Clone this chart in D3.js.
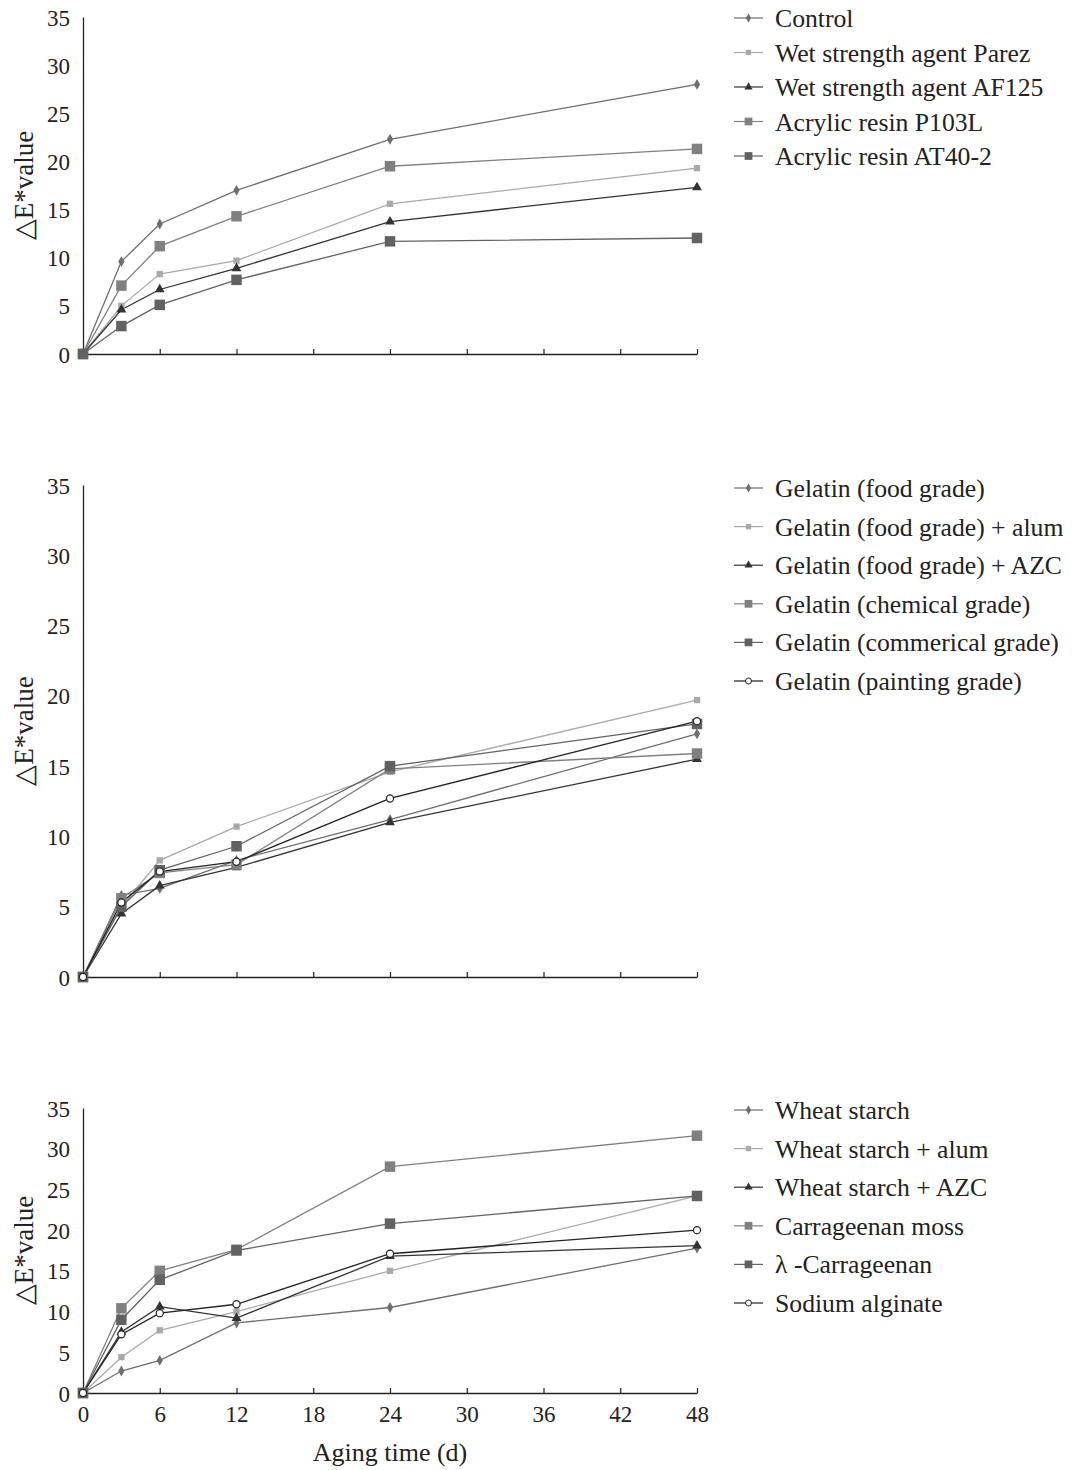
<!DOCTYPE html>
<html>
<head>
<meta charset="utf-8">
<script src="https://cdn.jsdelivr.net/npm/d3@7"></script>
<style>
html,body{margin:0;padding:0;background:#fff;}
svg text{font-family:"Liberation Serif","Times New Roman",serif;fill:#222;}
</style>
</head>
<body>
<svg id="chart" width="1078" height="1470"></svg>
<script>
const days = [0, 3, 6, 12, 24, 48];
const xTicks = [0, 6, 12, 18, 24, 30, 36, 42, 48];
const yTicks = [0, 5, 10, 15, 20, 25, 30, 35];
const yLabel = "\u25B3E*value";
const xLabel = "Aging time (d)";

// Panel 1
const names1 = ["Control", "Wet strength agent Parez", "Wet strength agent AF125", "Acrylic resin P103L", "Acrylic resin AT40-2"];
const control = [0, 9.6, 13.5, 17.0, 22.3, 28.0];
const parez = [0, 5.0, 8.3, 9.7, 15.6, 19.3];
const af125 = [0, 4.6, 6.7, 8.9, 13.75, 17.3];
const p103l = [0, 7.1, 11.2, 14.3, 19.5, 21.3];
const at402 = [0, 2.9, 5.1, 7.7, 11.7, 12.05];

// Panel 2
const names2 = ["Gelatin (food grade)", "Gelatin (food grade) + alum", "Gelatin (food grade) + AZC", "Gelatin (chemical grade)", "Gelatin (commerical grade)", "Gelatin (painting grade)"];
const gelFood = [0, 5.8, 6.3, 8.3, 11.2, 17.3];
const gelAlum = [0, 5.0, 8.3, 10.7, 14.6, 19.7];
const gelAzc = [0, 4.5, 6.5, 7.8, 11.0, 15.5];
const gelChem = [0, 5.6, 7.4, 8.0, 14.8, 15.9];
const gelComm = [0, 5.0, 7.6, 9.3, 15.0, 18.0];
const gelPaint = [0, 5.3, 7.5, 8.2, 12.7, 18.2];

// Panel 3
const names3 = ["Wheat starch", "Wheat starch + alum", "Wheat starch + AZC", "Carrageenan moss", "\u03BB -Carrageenan", "Sodium alginate"];
const wheat = [0, 2.7, 4.0, 8.6, 10.5, 17.8];
const wheatAlum = [0, 4.4, 7.7, 10.0, 15.0, 24.2];
const wheatAzc = [0, 7.5, 10.6, 9.2, 16.8, 18.1];
const carMoss = [0, 10.4, 15.0, 17.6, 27.8, 31.6];
const lambdaCar = [0, 9.0, 13.9, 17.5, 20.8, 24.2];
const alginate = [0, 7.2, 9.8, 10.9, 17.1, 20.0];

const styles = {
  diamond: {sym: d3.symbolDiamond, size: 34, fill: "#6e6e6e", stroke: "none", line: "#6e6e6e"},
  smallSq: {sym: d3.symbolSquare, size: 40, fill: "#a9a9a9", stroke: "none", line: "#a9a9a9"},
  tri: {sym: d3.symbolTriangle, size: 42, fill: "#333333", stroke: "none", line: "#333333"},
  bigSqL: {sym: d3.symbolSquare, size: 110, fill: "#808080", stroke: "none", line: "#808080"},
  bigSqD: {sym: d3.symbolSquare, size: 110, fill: "#626262", stroke: "none", line: "#626262"},
  circle: {sym: d3.symbolCircle, size: 40, fill: "#ffffff", stroke: "#222222", line: "#222222"}
};

const panels = [
  {top: 17, bottom: 354, names: names1, series: [control, parez, af125, p103l, at402],
   kinds: ["diamond", "smallSq", "tri", "bigSqL", "bigSqD"], legendY: 18, legendStep: 34.5, xLabels: false},
  {top: 485, bottom: 977, names: names2, series: [gelFood, gelAlum, gelAzc, gelChem, gelComm, gelPaint],
   kinds: ["diamond", "smallSq", "tri", "bigSqL", "bigSqD", "circle"], legendY: 488, legendStep: 38.6, xLabels: false},
  {top: 1108, bottom: 1393, names: names3, series: [wheat, wheatAlum, wheatAzc, carMoss, lambdaCar, alginate],
   kinds: ["diamond", "smallSq", "tri", "bigSqL", "bigSqD", "circle"], legendY: 1110, legendStep: 38.6, xLabels: true}
];

const svg = d3.select("#chart");
const x = d3.scaleLinear().domain([0, 48]).range([83, 697]);

panels.forEach(p => {
  const y = d3.scaleLinear().domain([0, 35]).range([p.bottom, p.top]);
  const g = svg.append("g");

  // y axis
  const ya = g.append("g").attr("transform", `translate(${x(0)},0)`)
    .call(d3.axisLeft(y).tickValues(yTicks).tickSize(0).tickPadding(13));
  ya.select(".domain").attr("stroke", "#222").attr("stroke-width", 1.3);
  ya.selectAll("text").attr("font-size", 23).attr("font-family", "Liberation Serif").attr("fill", "#222").attr("dy", "0.35em");

  // x axis
  const xa = g.append("g").attr("transform", `translate(0,${p.bottom})`)
    .call(d3.axisBottom(x).tickValues(xTicks).tickSize(-5).tickSizeOuter(0).tickPadding(13));
  xa.select(".domain").attr("stroke", "#222").attr("stroke-width", 1.3);
  xa.selectAll("line").attr("stroke", "#222").attr("stroke-width", 1.2);
  xa.selectAll("text").attr("font-size", 23).attr("font-family", "Liberation Serif").attr("fill", "#222")
    .attr("dy", "0.71em").style("display", p.xLabels ? null : "none");

  // y label
  g.append("text")
    .attr("transform", `translate(33,${(p.top + p.bottom) / 2}) rotate(-90)`)
    .attr("text-anchor", "middle")
    .attr("font-size", 27)
    .text(yLabel);

  const line = d3.line().x((d, i) => x(days[i])).y(d => y(d));

  p.series.forEach((s, k) => {
    const st = styles[p.kinds[k]];
    g.append("path").datum(s).attr("d", line)
      .attr("fill", "none").attr("stroke", st.line).attr("stroke-width", 1.3);
  });
  p.series.forEach((s, k) => {
    const st = styles[p.kinds[k]];
    const sym = d3.symbol().type(st.sym).size(st.size);
    g.selectAll(null).data(s).join("path")
      .attr("transform", (d, i) => `translate(${x(days[i])},${y(d)})`)
      .attr("d", sym)
      .attr("fill", st.fill)
      .attr("stroke", st.stroke)
      .attr("stroke-width", 1.2);
  });

  // legend
  p.names.forEach((name, k) => {
    const st = styles[p.kinds[k]];
    const ly = p.legendY + k * p.legendStep;
    const lg = svg.append("g").attr("transform", `translate(0,${ly})`);
    lg.append("line").attr("x1", 734).attr("x2", 763).attr("y1", 0).attr("y2", 0)
      .attr("stroke", st.line).attr("stroke-width", 1.2);
    const small = st.size > 100 ? 60 : st.size * 0.7;
    lg.append("path").attr("transform", "translate(748.5,0)")
      .attr("d", d3.symbol().type(st.sym).size(small)())
      .attr("fill", st.fill).attr("stroke", st.stroke).attr("stroke-width", 1);
    lg.append("text").attr("x", 775).attr("y", 0).attr("dy", "0.35em")
      .attr("font-size", 25.7).text(name);
  });

  if (p.xLabels) {
    svg.append("text").attr("x", x(24)).attr("y", 1452).attr("dy", "0.35em")
      .attr("text-anchor", "middle").attr("font-size", 26).text(xLabel);
  }
});
</script>
</body>
</html>
